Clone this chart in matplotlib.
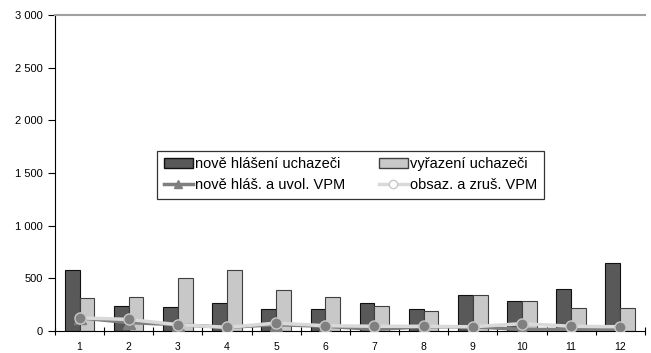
import matplotlib.pyplot as plt
import numpy as np
from matplotlib.lines import Line2D
from matplotlib.patches import Patch

plt.rcParams['font.family'] = ['Liberation Sans', 'DejaVu Sans']

months = [str(m) for m in range(1, 13)]
nove_hlaseni = [580, 240, 225, 265, 205, 210, 270, 205, 345, 285, 400, 645]
vyrazeni = [310, 320, 505, 580, 390, 320, 240, 190, 340, 285, 220, 215]
nove_vpm = [125, 80, 60, 35, 60, 45, 15, 40, 40, 15, 15, 10]
obsaz_vpm = [125, 110, 60, 35, 75, 50, 45, 45, 40, 70, 45, 40]

fig = plt.figure(figsize=(6.51, 3.53), dpi=100)
ax = fig.add_axes([0.0845, 0.0623, 0.906, 0.8952])

x = np.arange(1, 13)
w = 0.3
ax.bar(x - w / 2, nove_hlaseni, w, color='#595959', edgecolor='#111111', linewidth=0.8, zorder=2)
ax.bar(x + w / 2, vyrazeni, w, color='#c8c8c8', edgecolor='#404040', linewidth=0.8, zorder=2)
ax.plot(x, nove_vpm, color='#7f7f7f', linewidth=2.5, marker='^', markersize=8,
        markerfacecolor='#7f7f7f', markeredgecolor='#7f7f7f', zorder=3)
ax.plot(x, obsaz_vpm, color='#d9d9d9', linewidth=2.5, marker='o', markersize=8,
        markerfacecolor='#808080', markeredgecolor='#c8c8c8', zorder=4)

ax.set_xlim(0.5, 12.5)
ax.set_ylim(0, 3000)
ax.set_yticks(range(0, 3001, 500))
ax.set_yticklabels(['0', '500', '1 000', '1 500', '2 000', '2 500', '3 000'], fontsize=8)
ax.set_xticks(x)
ax.set_xticklabels(months, fontsize=7.5)
ax.tick_params(axis='x', length=0, pad=8)
ax.set_xticks(np.arange(0.5, 13, 1), minor=True)
ax.tick_params(axis='x', which='minor', length=6, direction='inout', width=0.8)
ax.tick_params(axis='y', length=5, width=0.8)

ax.spines['right'].set_visible(False)
ax.spines['top'].set_color('#a0a0a0')
ax.spines['top'].set_linewidth(1.5)

handles = [
    Patch(facecolor='#595959', edgecolor='#111111'),
    Line2D([], [], color='#7f7f7f', linewidth=2.5, marker='^', markersize=6),
    Patch(facecolor='#c8c8c8', edgecolor='#404040'),
    Line2D([], [], color='#d9d9d9', linewidth=2.5, marker='o', markersize=6,
           markerfacecolor='white', markeredgecolor='#c8c8c8'),
]
labels = ['nově hlášení uchazeči', 'nově hláš. a uvol. VPM',
          'vyřazení uchazeči', 'obsaz. a zruš. VPM']
leg = ax.legend(handles, labels, ncol=2, loc='upper left',
                bbox_to_anchor=(0.173, 0.570), borderaxespad=0,
                fontsize=10.5, frameon=True, fancybox=False, edgecolor='black',
                handlelength=2.0, handletextpad=0.15, columnspacing=2.3,
                borderpad=0.45, labelspacing=0.45)
leg.get_frame().set_linewidth(0.9)

fig.savefig('out.png', dpi=100)
